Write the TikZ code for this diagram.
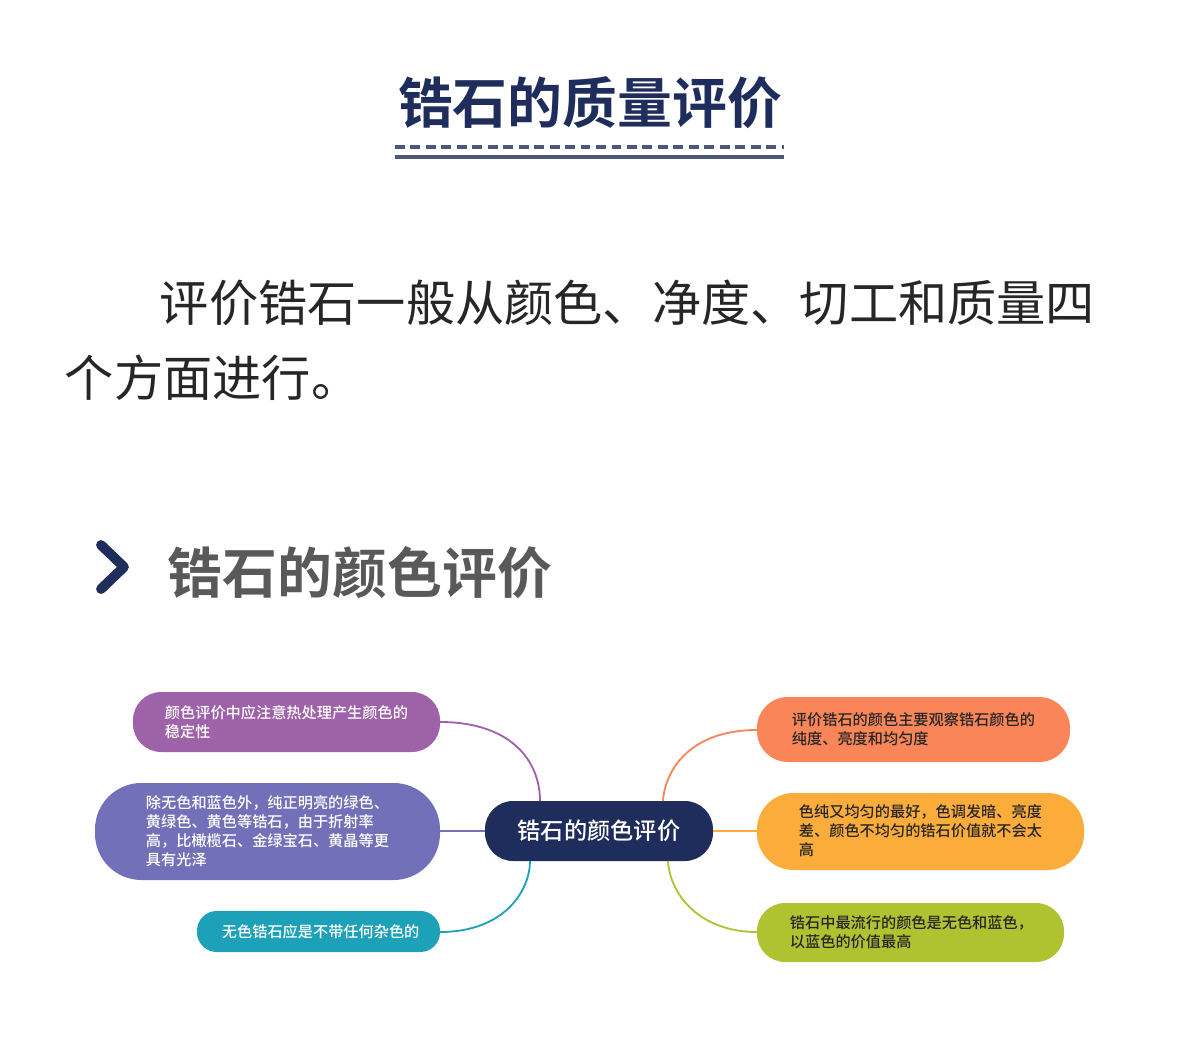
\documentclass[tikz,border=0pt]{standalone}
\usepackage{fontspec}
\setmainfont{Noto Sans CJK SC}
\newfontfamily\cjkb{Noto Sans CJK SC Bold}
\newfontfamily\cjkm{Noto Sans CJK SC Medium}
\begin{document}
\begin{tikzpicture}[x=0.025cm,y=-0.025cm,
  lt/.style={font=\fontsize{10.8}{13.5}\selectfont\cjkm,align=left,anchor=west},
  conn/.style={line width=1.3pt}]
\useasboundingbox (0,0) rectangle (1179,1063);
\definecolor{navy}{HTML}{1F2D5C}
\definecolor{cpur}{HTML}{9E62A8}
\definecolor{cvio}{HTML}{7270B9}
\definecolor{cteal}{HTML}{1DA1B8}
\definecolor{corg}{HTML}{F98558}
\definecolor{cyel}{HTML}{FCAC3A}
\definecolor{cgrn}{HTML}{AFC22F}
% title
\node[font=\fontsize{39}{42}\selectfont\cjkb,text=navy] (title) at (590,103) {锆石的质量评价};
\draw[navy!80,line width=3pt,dash pattern=on 7pt off 4pt] (395,147) -- (784,147);
\draw[navy!80,line width=2.5pt] (395,157) -- (784,157);
% paragraph
\node[anchor=west,font=\fontsize{35}{38}\selectfont,text=black!85] (p1) at (155,303) {评价锆石一般从颜色、净度、切工和质量四};
\node[anchor=west,font=\fontsize{35}{38}\selectfont,text=black!85] (p2) at (60,378) {个方面进行。};
% header
\draw[navy,line width=7pt,line join=round,line cap=round] (101,545) -- (124,567) -- (101,589);
\node[anchor=west,font=\fontsize{39}{42}\selectfont\cjkb,text=black!65] (hd) at (163,573) {锆石的颜色评价};
% boxes
\fill[cpur,rounded corners=20pt] (133,692) rectangle (440,752);
\fill[cvio,rounded corners=33pt] (95,783) rectangle (440,880);
\fill[cteal,rounded corners=14pt] (197,911) rectangle (440,952);
\fill[navy,rounded corners=20pt] (485,801) rectangle (713,861);
\fill[corg,rounded corners=22pt] (757,697) rectangle (1070,762);
\fill[cyel,rounded corners=26pt] (757,793) rectangle (1084,870);
\fill[cgrn,rounded corners=20pt] (757,903) rectangle (1064,962);
\node[lt,text=white] (a) at (160,722) {颜色评价中应注意热处理产生颜色的\\稳定性};
\node[lt,text=white] (b) at (141,831) {除无色和蓝色外，纯正明亮的绿色、\\黄绿色、黄色等锆石，由于折射率\\高，比橄榄石、金绿宝石、黄晶等更\\具有光泽};
\node[lt,text=white] (c) at (217,932) {无色锆石应是不带任何杂色的};
\node[font=\fontsize{16.5}{19}\selectfont\cjkm,text=white] (ctr) at (599,831) {锆石的颜色评价};
\node[lt,text=black!85] (d) at (787,729) {评价锆石的颜色主要观察锆石颜色的\\纯度、亮度和均匀度};
\node[lt,text=black!85] (e) at (794,831) {色纯又均匀的最好，色调发暗、亮度\\差、颜色不均匀的锆石价值就不会太\\高};
\node[lt,text=black!85] (f) at (785,932) {锆石中最流行的颜色是无色和蓝色，\\以蓝色的价值最高};
% anchors
\coordinate (aL) at (440,722); \coordinate (bL) at (440,831); \coordinate (cL) at (440,932);
\coordinate (dR) at (757,730); \coordinate (eR) at (757,831); \coordinate (fR) at (757,932);
\coordinate (ct1) at (540,801); \coordinate (ct2) at (530,861);
\coordinate (ct3) at (663,801); \coordinate (ct4) at (668,861);
\coordinate (cw) at (485,831); \coordinate (ce) at (713,831);
\draw[conn,cpur] (aL) .. controls (510,722) and (540,760) .. (ct1);
\draw[conn,cvio] (bL) -- (cw);
\draw[conn,cteal] (cL) .. controls (505,932) and (530,890) .. (ct2);
\draw[conn,corg] (dR) .. controls (690,730) and (665,770) .. (ct3);
\draw[conn,cyel] (ce) -- (eR);
\draw[conn,cgrn] (fR) .. controls (700,932) and (670,895) .. (ct4);
\end{tikzpicture}
\end{document}
